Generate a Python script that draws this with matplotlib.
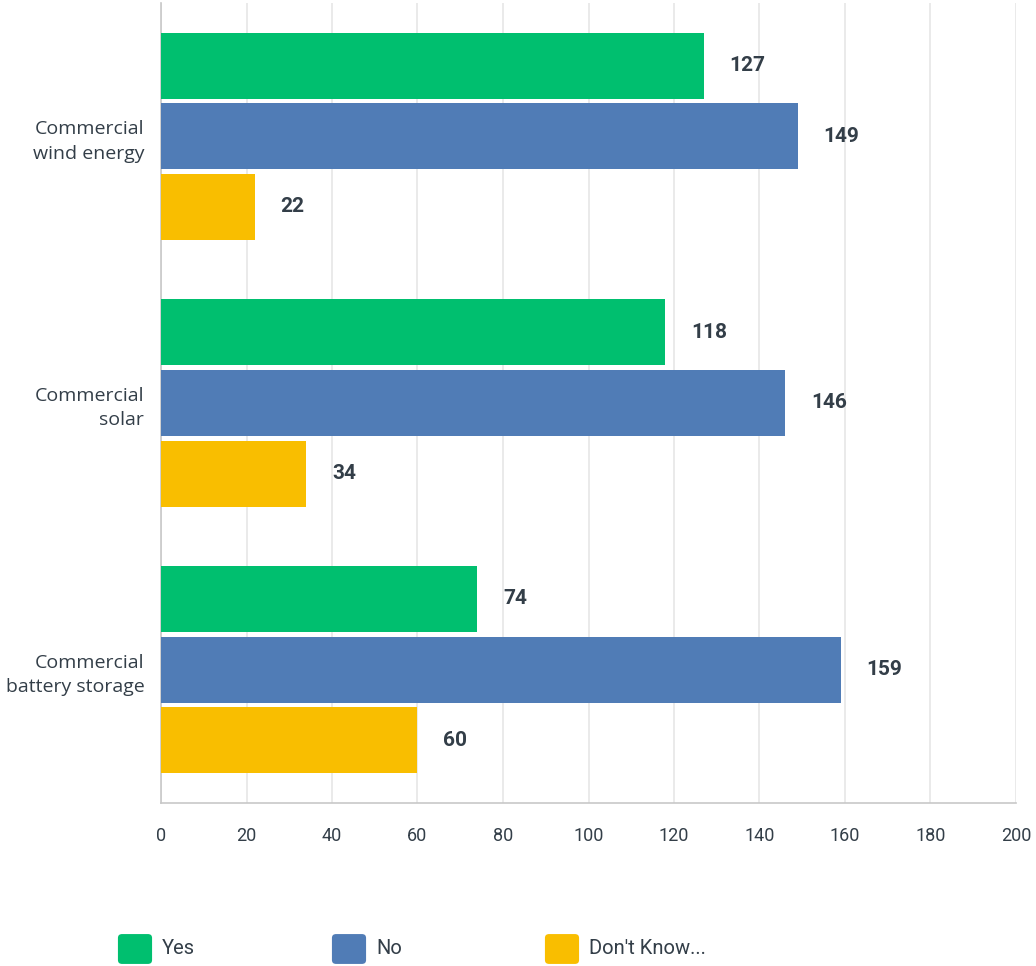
import matplotlib.pyplot as plt
import numpy as np
from matplotlib.patches import FancyBboxPatch

categories = ["Commercial\nwind energy", "Commercial\nsolar", "Commercial\nbattery storage"]
series = ["Yes", "No", "Don't Know..."]
yes_vals = [127, 118, 74]
no_vals = [149, 146, 159]
dk_vals = [22, 34, 60]
colors = ["#00bf6f", "#507cb6", "#f9be00"]
x_ticks = [0, 20, 40, 60, 80, 100, 120, 140, 160, 180, 200]

text_color = "#333e48"
plt.rcParams["font.family"] = ["Roboto", "DejaVu Sans"]

fig = plt.figure(figsize=(10.36, 9.66), dpi=100)
ax = fig.add_axes([161 / 1036, 1 - 803 / 966, 855 / 1036, 800 / 966])

y = np.arange(len(categories))
bar_h = 0.248
pitch = 0.265
for i, (vals, col) in enumerate(zip([yes_vals, no_vals, dk_vals], colors)):
    pos = y + (i - 1) * pitch
    bars = ax.barh(pos, vals, height=bar_h, color=col, zorder=3)
    for b, v in zip(bars, vals):
        ax.text(v + 6, b.get_y() + b.get_height() / 2, str(v), va="center", ha="left",
                fontsize=15, fontweight="bold", color=text_color)

ax.set_xlim(0, 200)
ax.set_ylim(2.5, -0.5)
ax.set_xticks(x_ticks)
ax.set_xticklabels([str(t) for t in x_ticks], fontsize=13, color=text_color)
ax.set_yticks(y)
ax.set_yticklabels(categories, fontsize=14, color=text_color, linespacing=1.45,
                   family=["Open Sans", "DejaVu Sans"])
ax.tick_params(axis="both", length=0)
ax.tick_params(axis="x", pad=17)
ax.tick_params(axis="y", pad=12)
ax.grid(axis="x", color="#e6e6e6", linewidth=1.2, zorder=0)
for s in ["top", "right"]:
    ax.spines[s].set_visible(False)
ax.spines["left"].set_color("#c8c8c8")
ax.spines["bottom"].set_color("#c8c8c8")
ax.spines["left"].set_linewidth(1.2)
ax.spines["bottom"].set_linewidth(1.2)

# legend with rounded swatches
legend_x = [118, 332, 545]
for lx, name, col in zip(legend_x, series, colors):
    fig.patches.append(FancyBboxPatch(((lx + 2) / 1036, 1 - 962 / 966), 30 / 1036, 26 / 966,
                                      boxstyle="round,pad=0.002,rounding_size=0.004",
                                      transform=fig.transFigure, facecolor=col, edgecolor="none"))
    fig.text((lx + 44) / 1036, 1 - 949 / 966, name, fontsize=14.5, color=text_color,
             va="center", ha="left")

fig.savefig("out.png", dpi=100)
